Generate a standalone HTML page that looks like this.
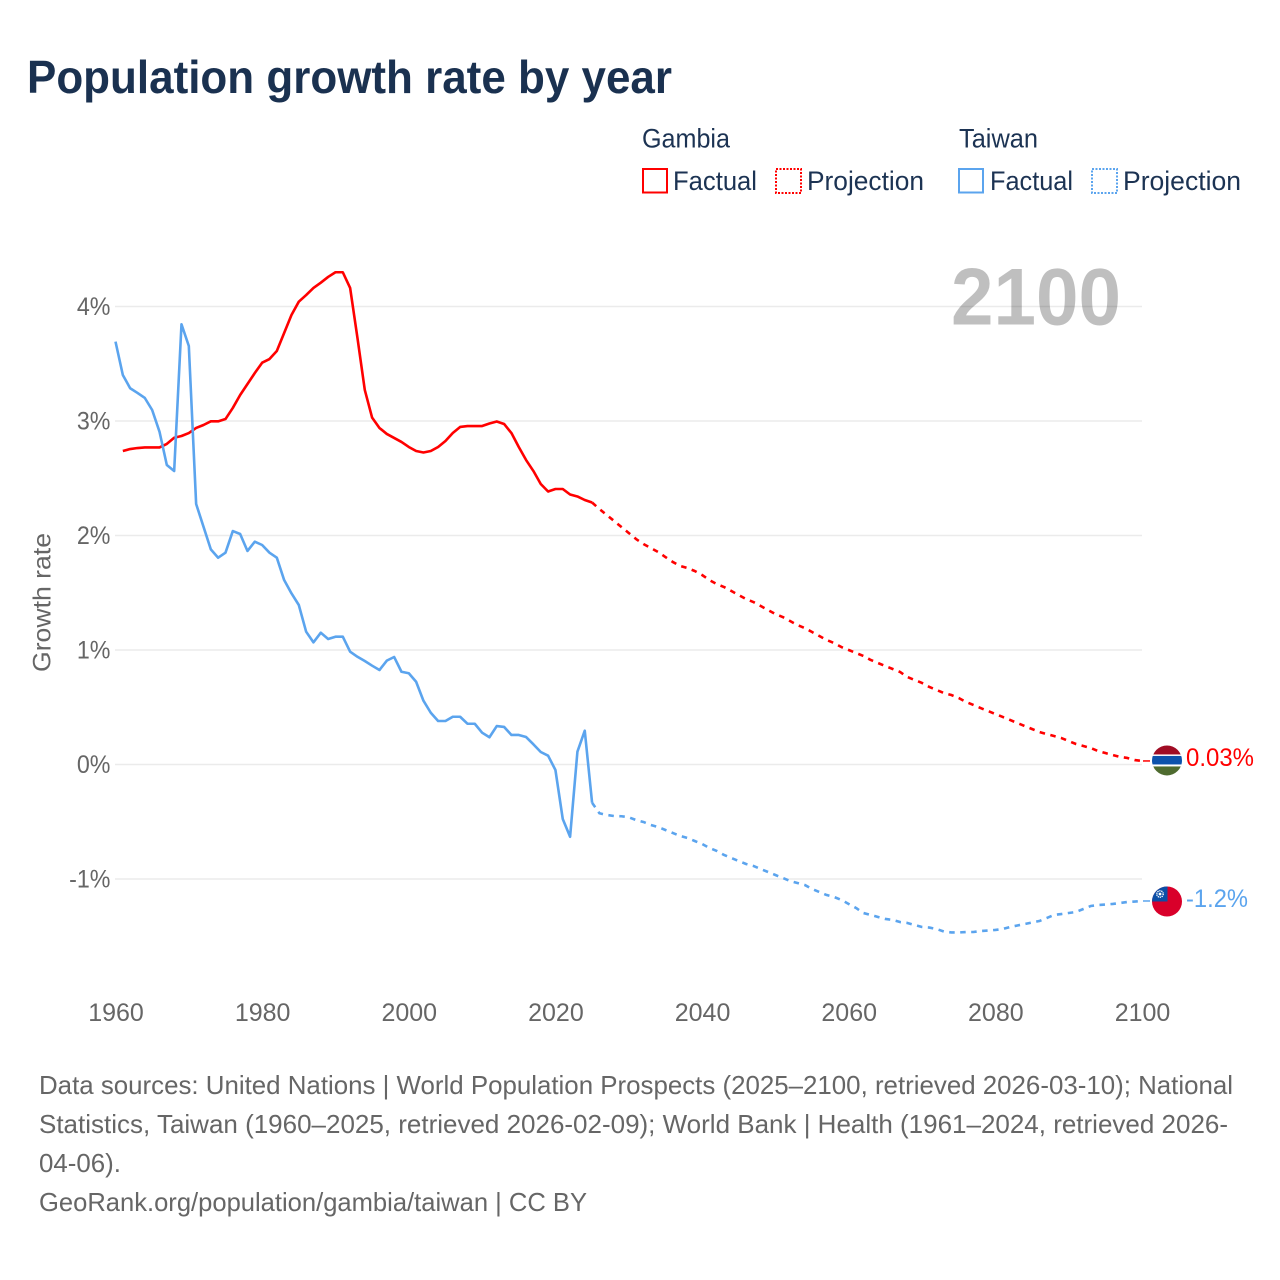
<!DOCTYPE html>
<html lang="en">
<head>
<meta charset="utf-8">
<title>Population growth rate by year</title>
<style>
html,body{margin:0;padding:0;background:#fff;}
svg{display:block;font-family:"Liberation Sans","DejaVu Sans",sans-serif;}
.legend{font-size:27px;fill:#1c3353;}
.foot{font-size:26px;fill:#666;}
</style>
</head>
<body>
<svg id="chart" width="1280" height="1280" viewBox="0 0 1280 1280" xmlns="http://www.w3.org/2000/svg">
  <defs>
    <clipPath id="flag-clip"><circle cx="0" cy="0" r="15"></circle></clipPath>
  </defs>
  <rect width="1280" height="1280" fill="#fff"></rect>
  <text x="27" y="93" font-size="46" font-weight="700" fill="#1a3150" textLength="645" lengthAdjust="spacingAndGlyphs">Population growth rate by year</text>

  <g>
    <text class="legend" x="642" y="147.5" textLength="88" lengthAdjust="spacingAndGlyphs">Gambia</text>
    <rect x="643" y="169" width="24" height="23.5" fill="none" stroke="#ff0000" stroke-width="2"></rect>
    <text class="legend" x="673" y="190" textLength="84" lengthAdjust="spacingAndGlyphs">Factual</text>
    <rect x="776" y="169" width="25" height="24" fill="none" stroke="#ff0000" stroke-width="2" stroke-dasharray="2 1.5"></rect>
    <text class="legend" x="807" y="190" textLength="117" lengthAdjust="spacingAndGlyphs">Projection</text>
    <text class="legend" x="959" y="147.5" textLength="79" lengthAdjust="spacingAndGlyphs">Taiwan</text>
    <rect x="959" y="169" width="24" height="23.5" fill="none" stroke="#5ba4ee" stroke-width="2"></rect>
    <text class="legend" x="990" y="190" textLength="83" lengthAdjust="spacingAndGlyphs">Factual</text>
    <rect x="1092" y="169" width="25" height="24" fill="none" stroke="#5ba4ee" stroke-width="2" stroke-dasharray="2 1.5"></rect>
    <text class="legend" x="1123" y="190" textLength="118" lengthAdjust="spacingAndGlyphs">Projection</text>
  </g>

  <g id="grid"></g>
  <text x="951" y="324.5" font-size="81" font-weight="700" fill="#000" fill-opacity="0.25" textLength="170" lengthAdjust="spacingAndGlyphs">2100</text>
  <text x="0" y="0" transform="translate(50.5,672) rotate(-90)" font-size="25" fill="#666" textLength="139" lengthAdjust="spacingAndGlyphs">Growth rate</text>
  <g id="yticks"></g>
  <g id="xticks"></g>
  <g id="series"></g>

  <g id="flag-gambia">
    <g clip-path="url(#flag-clip)">
      <rect x="-15" y="-15" width="30" height="30" fill="#fff"></rect>
      <rect x="-15" y="-16" width="30" height="10" fill="#a00c24"></rect>
      <rect x="-15" y="-4.5" width="30" height="8.5" fill="#0c52ac"></rect>
      <rect x="-15" y="6" width="30" height="10" fill="#4e6b2f"></rect>
    </g>
  </g>
  <g id="flag-taiwan">
    <g clip-path="url(#flag-clip)">
      <rect x="-15" y="-15" width="30" height="30" fill="#d9002a"></rect>
      <rect x="-15" y="-15" width="15.5" height="15" fill="#0b4fa6"></rect>
      <circle cx="-7" cy="-7.5" r="3.2" fill="none" stroke="#fff" stroke-width="1.4" stroke-dasharray="1.2 0.8"></circle>
      <circle cx="-7" cy="-7.5" r="1.4" fill="#fff"></circle>
    </g>
  </g>
  <g id="end-labels"></g>

  <g>
    <text class="foot" x="39" y="1094" textLength="1194" lengthAdjust="spacingAndGlyphs">Data sources: United Nations | World Population Prospects (2025–2100, retrieved 2026-03-10); National</text>
    <text class="foot" x="39" y="1133" textLength="1189" lengthAdjust="spacingAndGlyphs">Statistics, Taiwan (1960–2025, retrieved 2026-02-09); World Bank | Health (1961–2024, retrieved 2026-</text>
    <text class="foot" x="39" y="1172" textLength="82" lengthAdjust="spacingAndGlyphs">04-06).</text>
    <text class="foot" x="39" y="1211" textLength="548" lengthAdjust="spacingAndGlyphs">GeoRank.org/population/gambia/taiwan | CC BY</text>
  </g>
</svg>
<script>
const yTickValues = [4, 3, 2, 1, 0, -1];
const yTickLabels = ["4%", "3%", "2%", "1%", "0%", "-1%"];
const xTickYears = [1960, 1980, 2000, 2020, 2040, 2060, 2080, 2100];

const gambiaFactualStart = 1961;
const gambiaFactual = [2.738,2.755,2.764,2.769,2.769,2.769,2.80,2.854,2.869,2.895,2.939,2.965,2.997,2.997,3.017,3.114,3.227,3.323,3.419,3.509,3.541,3.611,3.769,3.926,4.042,4.10,4.162,4.208,4.258,4.299,4.299,4.162,3.725,3.271,3.029,2.939,2.887,2.852,2.817,2.773,2.738,2.725,2.738,2.773,2.825,2.895,2.948,2.956,2.956,2.956,2.978,2.996,2.974,2.895,2.773,2.659,2.563,2.45,2.384,2.406,2.406,2.358,2.341,2.31,2.288];
const gambiaProjectionStart = 2026;
const gambiaProjection = [2.231,2.179,2.127,2.074,2.022,1.969,1.926,1.891,1.856,1.812,1.769,1.734,1.716,1.69,1.655,1.611,1.576,1.55,1.515,1.48,1.445,1.419,1.384,1.349,1.314,1.288,1.253,1.218,1.192,1.157,1.122,1.087,1.061,1.026,1.0,0.974,0.948,0.913,0.886,0.86,0.834,0.808,0.764,0.738,0.712,0.677,0.651,0.624,0.607,0.581,0.546,0.52,0.493,0.467,0.441,0.415,0.389,0.362,0.336,0.31,0.284,0.266,0.249,0.231,0.205,0.179,0.162,0.144,0.118,0.10,0.083,0.066,0.057,0.039,0.031];

const taiwanFactualStart = 1960;
const taiwanFactual = [3.693,3.402,3.286,3.245,3.201,3.096,2.907,2.616,2.563,3.845,3.655,2.275,2.077,1.879,1.806,1.85,2.039,2.013,1.865,1.946,1.917,1.85,1.806,1.611,1.495,1.393,1.16,1.067,1.151,1.096,1.116,1.116,0.985,0.941,0.904,0.863,0.825,0.907,0.939,0.81,0.797,0.723,0.557,0.452,0.38,0.38,0.417,0.417,0.356,0.356,0.278,0.238,0.336,0.328,0.258,0.258,0.24,0.176,0.109,0.077,-0.048,-0.476,-0.631,0.112,0.295,-0.334];
const taiwanProjectionStart = 2026;
const taiwanProjection = [-0.426,-0.441,-0.45,-0.452,-0.461,-0.485,-0.502,-0.528,-0.546,-0.572,-0.598,-0.624,-0.642,-0.668,-0.694,-0.729,-0.755,-0.79,-0.817,-0.843,-0.869,-0.886,-0.913,-0.939,-0.965,-0.991,-1.017,-1.035,-1.052,-1.087,-1.114,-1.14,-1.157,-1.183,-1.218,-1.253,-1.297,-1.314,-1.332,-1.349,-1.358,-1.376,-1.384,-1.402,-1.419,-1.424,-1.437,-1.459,-1.467,-1.467,-1.463,-1.463,-1.454,-1.45,-1.445,-1.437,-1.419,-1.406,-1.393,-1.38,-1.367,-1.341,-1.314,-1.306,-1.297,-1.288,-1.262,-1.236,-1.227,-1.223,-1.218,-1.21,-1.201,-1.197,-1.192];

const gambiaEndLabel = "0.03%";
const taiwanEndLabel = "-1.2%";

const NS = "http://www.w3.org/2000/svg";
const RED = "#ff0000";
const BLUE = "#5ba4ee";
function xScale(year) { return 115.5 + (year - 1960) * (1142 - 115.5) / 140; }
function yScale(value) { return 764.5 - value * 114.5; }

function make(tag, attrs, parent, text) {
  const el = document.createElementNS(NS, tag);
  for (const k in attrs) el.setAttribute(k, attrs[k]);
  if (text !== undefined) el.textContent = text;
  parent.appendChild(el);
  return el;
}
function pointsFor(start, values) {
  return values.map(function (v, i) {
    return xScale(start + i).toFixed(2) + "," + yScale(v).toFixed(2);
  }).join(" ");
}

const grid = document.getElementById("grid");
const yticks = document.getElementById("yticks");
const xticks = document.getElementById("xticks");
const series = document.getElementById("series");
const endLabels = document.getElementById("end-labels");

yTickValues.forEach(function (v, i) {
  const line = make("line", { x1: 115, x2: 1142, y1: yScale(v), y2: yScale(v), stroke: "#ebebeb", "stroke-width": 1.5 }, grid);
  
  
  const label = make("text", { x: 110.5, y: yScale(v) + 8.5, "text-anchor": "end", "font-size": 25, fill: "#666" }, yticks, yTickLabels[i]);
  
  
  label.setAttribute("textLength", (label.getComputedTextLength() * 0.93).toFixed(2));
  label.setAttribute("lengthAdjust", "spacingAndGlyphs");
});

xTickYears.forEach(function (year) {
  const label = make("text", { x: xScale(year) + 0.5, y: 1021, "text-anchor": "middle", "font-size": 25, fill: "#666" }, xticks, String(year));
  
  
});

function lineStyle(color, dashed) {
  const s = { fill: "none", stroke: color, "stroke-width": 2.6, "stroke-linejoin": "round" };
  if (dashed) s["stroke-dasharray"] = "5.5 5.5";
  return s;
}

const gambiaFactualLine = make("polyline", Object.assign({ points: pointsFor(gambiaFactualStart, gambiaFactual) }, lineStyle(RED, false)), series);



const gambiaProjectionLine = make("polyline", Object.assign({ points: pointsFor(gambiaFactualStart + gambiaFactual.length - 1, [gambiaFactual[gambiaFactual.length - 1]].concat(gambiaProjection)) }, lineStyle(RED, true)), series);



const taiwanFactualLine = make("polyline", Object.assign({ points: pointsFor(taiwanFactualStart, taiwanFactual) }, lineStyle(BLUE, false)), series);



const taiwanProjectionLine = make("polyline", Object.assign({ points: pointsFor(taiwanFactualStart + taiwanFactual.length - 1, [taiwanFactual[taiwanFactual.length - 1]].concat(taiwanProjection)) }, lineStyle(BLUE, true)), series);



const gambiaLast = gambiaProjection[gambiaProjection.length - 1];
const taiwanLast = taiwanProjection[taiwanProjection.length - 1];

const gambiaConnector = make("line", { x1: xScale(2100) + 1, x2: 1150, y1: yScale(gambiaLast), y2: yScale(gambiaLast), stroke: RED, "stroke-width": 1.5 }, series);



const taiwanConnector = make("line", { x1: xScale(2100) + 1, x2: 1150, y1: yScale(taiwanLast), y2: yScale(taiwanLast), stroke: BLUE, "stroke-width": 1.5 }, series);



document.getElementById("flag-gambia").setAttribute("transform", "translate(1167," + (yScale(gambiaLast) - 0.5) + ")");
document.getElementById("flag-taiwan").setAttribute("transform", "translate(1167," + (yScale(taiwanLast) + 0.5) + ")");

const gambiaLabel = make("text", { x: 1186, y: yScale(gambiaLast) + 5, "font-size": 25, fill: RED, textLength: 68, lengthAdjust: "spacingAndGlyphs" }, endLabels, gambiaEndLabel);



const taiwanLabel = make("text", { x: 1186, y: yScale(taiwanLast) + 6, "font-size": 25, fill: BLUE, textLength: 62, lengthAdjust: "spacingAndGlyphs" }, endLabels, taiwanEndLabel);


</script>
</body>
</html>
